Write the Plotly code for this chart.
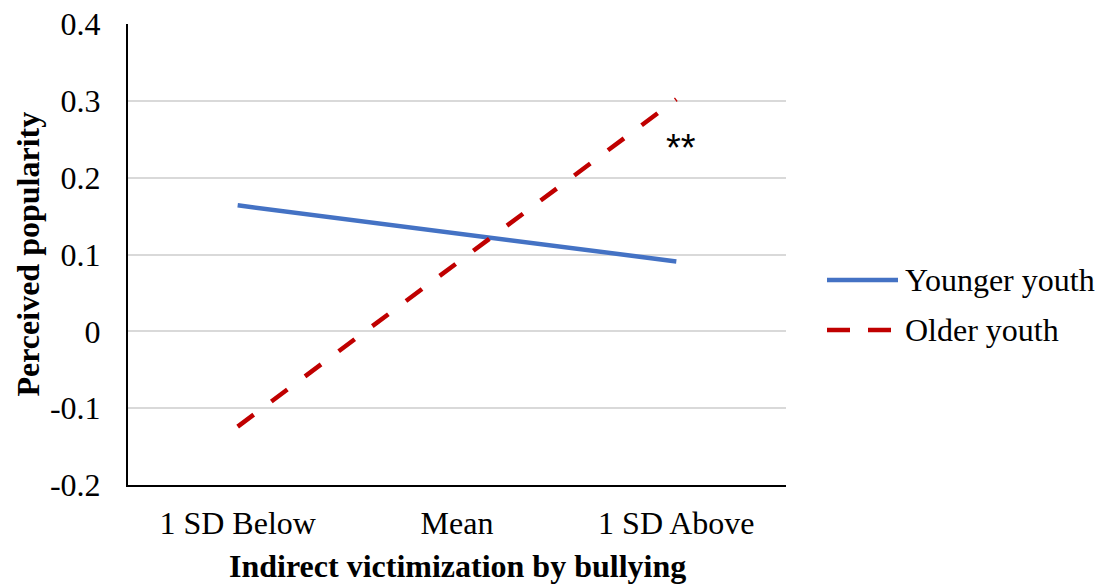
import plotly.graph_objects as go

categories = ["1 SD Below", "Mean", "1 SD Above"]
younger = [0.164, 0.128, 0.091]
older = [-0.124, 0.089, 0.302]
series_names = ["Younger youth", "Older youth"]
ytick_vals = [-0.2, -0.1, 0, 0.1, 0.2, 0.3, 0.4]
ytick_text = ["-0.2", "-0.1", "0", "0.1", "0.2", "0.3", "0.4"]

W, H = 1107, 586
L, R, T, B = 128, 321, 24, 101
pw, ph = W - L - R, H - T - B

SERIF = "Liberation Serif, Times New Roman, serif"
BLUE = "#4472C4"
RED = "#C00000"
FS = 32

fig = go.Figure()
fig.add_trace(go.Scatter(x=categories, y=younger, mode="lines", name=series_names[0],
                         line=dict(color=BLUE, width=4.5), showlegend=False))
fig.add_trace(go.Scatter(x=categories, y=older, mode="lines", name=series_names[1],
                         line=dict(color=RED, width=4.5, dash="20px,22px"), showlegend=False))

def px_x(p):
    return (p - L) / pw

def px_y(p):
    return (H - B - p) / ph

# manual legend
legend_items = [(series_names[0], BLUE, "solid", 280), (series_names[1], RED, "23px,18px", 330)]
for name, col, dash, yc in legend_items:
    fig.add_shape(type="line", xref="paper", yref="paper",
                  x0=px_x(827), x1=px_x(898), y0=px_y(yc), y1=px_y(yc),
                  line=dict(color=col, width=4.5, dash=dash))
    fig.add_annotation(xref="paper", yref="paper", x=px_x(903), y=px_y(yc),
                       text=name, showarrow=False, xanchor="left", yanchor="middle",
                       font=dict(family=SERIF, size=FS, color="black"))

# significance marker
fig.add_annotation(x=2.022, y=0.238, xref="x", yref="y", text="**", showarrow=False,
                   font=dict(family="Liberation Sans, Arial, sans-serif", size=38, color="black"))

# axis titles
fig.add_annotation(xref="paper", yref="paper", x=px_x(27), y=0.5, text="<b>Perceived popularity</b>",
                   textangle=-90, showarrow=False, xanchor="center", yanchor="middle",
                   font=dict(family=SERIF, size=FS, color="black"))
fig.add_annotation(xref="paper", yref="paper", x=px_x(457), y=px_y(566),
                   text="<b>Indirect victimization by bullying</b>",
                   showarrow=False, xanchor="center", yanchor="middle",
                   font=dict(family=SERIF, size=FS, color="black"))

fig.update_layout(
    width=W, height=H,
    margin=dict(l=L, r=R, t=T, b=B, autoexpand=False),
    paper_bgcolor="white", plot_bgcolor="white",
    font=dict(family=SERIF, size=FS, color="black"),
    xaxis=dict(type="category", range=[-0.5, 2.5], showgrid=False, showline=True,
               linecolor="black", linewidth=2, ticks="", ticklabelstandoff=9,
               tickfont=dict(family=SERIF, size=FS, color="black"), zeroline=False),
    yaxis=dict(range=[-0.2, 0.4], tickvals=ytick_vals, ticktext=ytick_text,
               showgrid=True, gridcolor="#d9d9d9", gridwidth=1.5, showline=True,
               linecolor="black", linewidth=2, ticks="", ticklabelstandoff=19,
               tickfont=dict(family=SERIF, size=FS, color="black"), zeroline=False),
)

fig.write_html("out.html")
